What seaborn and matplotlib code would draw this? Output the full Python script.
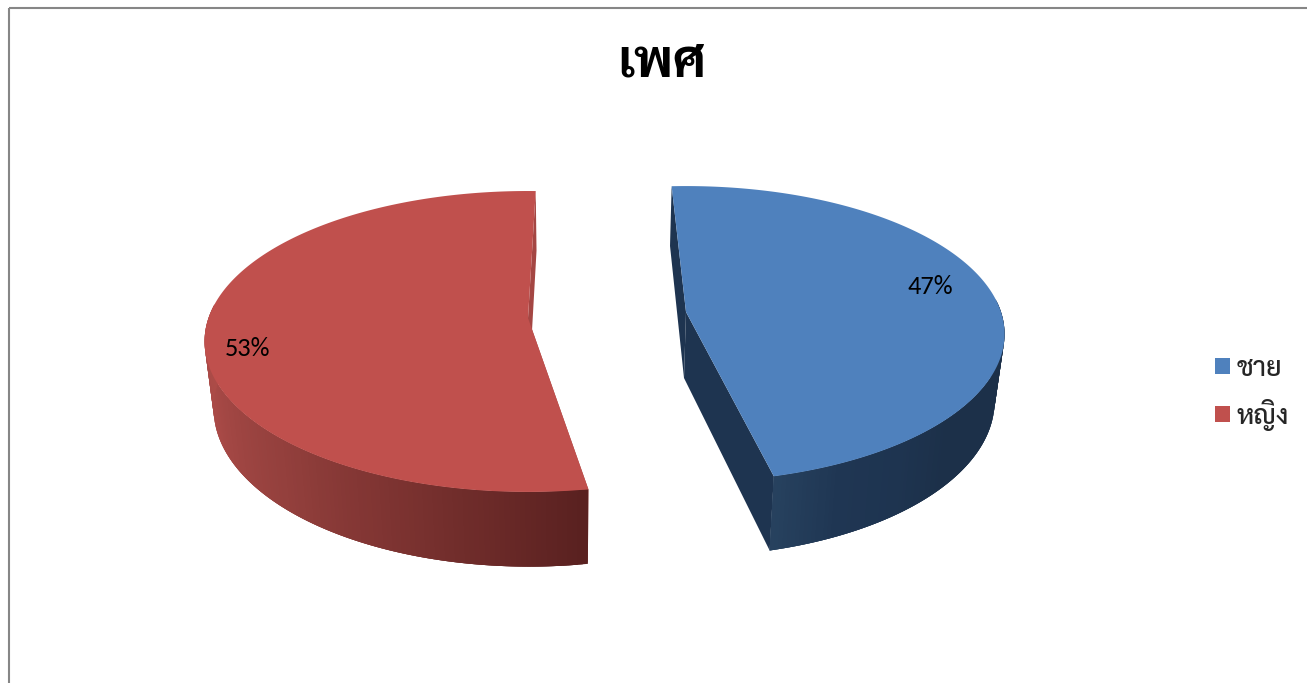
import numpy as np
import seaborn as sns
import matplotlib
matplotlib.use("Agg")
import matplotlib.pyplot as plt
from matplotlib import font_manager as fm
from matplotlib.patches import Patch, Rectangle

chart_title = "เพศ"
genders = ["ชาย", "หญิง"]
shares = [47, 53]

top_colors = ["#4F81BD", "#C0504D"]
wall_colors = ["#1E3450", "#A44643"]
# rim shading from the start of the visible rim to its end, by ascending angle
rim_ramps = [["#1C3049", "#1C3049", "#1C3049", "#1C3049", "#1C3049", "#1E3450", "#1F3653", "#27425F"],
             ["#5A2120", "#79312F", "#94403D", "#A94A47", "#AD4B47"]]

# slice geometry in picture pixels: apex, start angle from the back, perspective terms
apex = [(686, 312), (528, 318)]
start_angle = [-3.0, 170.8]
persp_a = [144.7, 146.8]
persp_b = [-0.149, -0.156]
persp_c = [315, 319.5]
shift_x = [-2, 1]

sns.set_theme(style="white")
names = {f.name for f in fm.fontManager.ttflist}
thai_font = next(n for n in ["Sarabun", "Noto Sans Thai Looped", "Noto Sans Thai", "Anuphan"] if n in names)
latin_font = "Carlito" if "Carlito" in names else "Lato"
plt.rcParams["font.family"] = [thai_font, "DejaVu Sans"]


def project(i, phi):
    u, v = np.sin(np.radians(phi)), -np.cos(np.radians(phi))
    w = 1 + persp_b[i] * v
    return apex[i][0] + persp_c[i] * u / w, apex[i][1] + persp_a[i] * v / w


def drop(i, x, y):
    # lower face of the slab: a little narrower, thicker towards the viewer
    dx, dy = x - apex[i][0], y - apex[i][1]
    return apex[i][0] + shift_x[i] + 0.975 * dx, y + 66 + 0.05 * dy


fig = plt.figure(figsize=(13.07, 6.83), dpi=100)
ax = fig.add_axes([0, 0, 1, 1])
ax.set_xlim(0, 1307)
ax.set_ylim(683, 0)
ax.axis("off")
ax.add_patch(Rectangle((9, 8), 1400, 800, fill=False, ec="#868686", lw=1.5))

for i, share in enumerate(shares):
    sweep = 360 * share / sum(shares)
    phis = np.linspace(start_angle[i], start_angle[i] + sweep, 240)
    ax_, ay_ = apex[i]
    bx_, by_ = drop(i, ax_, ay_)
    xs, ys = project(i, phis)
    lx, ly = drop(i, xs, ys)

    for k in [0, -1]:
        ax.fill([ax_, xs[k], lx[k], bx_], [ay_, ys[k], ly[k], by_],
                color=wall_colors[i], lw=0, zorder=2)

    seen = np.flatnonzero(-np.cos(np.radians(phis)) > -0.1)
    ramp = sns.blend_palette(rim_ramps[i], len(seen))
    # each strip runs a little under the next one, so no white shows between them
    for n, k in enumerate(seen[:-1]):
        j = min(k + 3, seen[-1])
        ax.fill([xs[k], xs[j], lx[j], lx[k]], [ys[k], ys[j], ly[j], ly[k]],
                color=ramp[n], lw=0, zorder=3 + n * 1e-4)

    ax.fill(np.r_[ax_, xs], np.r_[ay_, ys], color=top_colors[i], lw=0, zorder=4)

label_pos = [(930, 286), (248, 348)]
for share, pos in zip(shares, label_pos):
    ax.text(pos[0], pos[1], f"{share}%", fontsize=19, family=latin_font, color="black",
            ha="center", va="center", zorder=5)

ax.text(662, 63, chart_title, fontsize=38, fontweight="bold", color="black",
        ha="center", va="center")

handles = [Patch(facecolor=c, edgecolor="none", label=g) for c, g in zip(top_colors, genders)]
ax.legend(handles=handles, loc="center left", bbox_to_anchor=(1215 / 1307, 1 - 393 / 683),
          frameon=False, handlelength=0.55, handleheight=0.55,
          handletextpad=0.26, labelspacing=0.63, borderpad=0, borderaxespad=0,
          prop={"weight": 500, "size": 19.5})

fig.savefig("out.png", dpi=100)
